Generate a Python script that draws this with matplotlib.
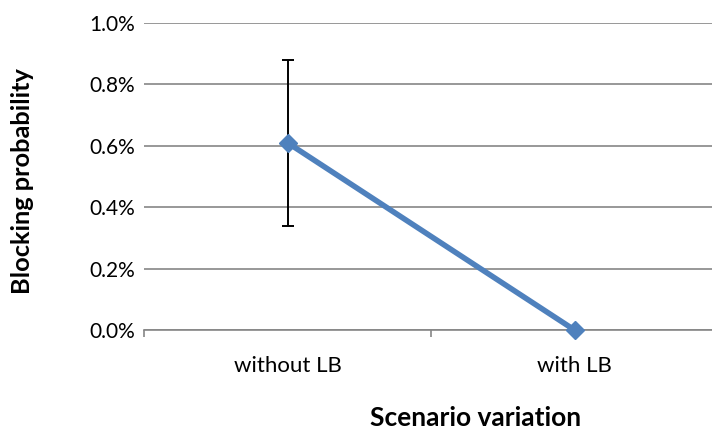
import matplotlib
matplotlib.use("Agg")
import matplotlib.pyplot as plt
from matplotlib.ticker import FuncFormatter, MultipleLocator

plt.rcParams['font.family'] = ['Lato', 'DejaVu Sans']

categories = ["without LB", "with LB"]
blocking = [0.0061, 0.0]
err_low = [0.0027, 0.0]
err_high = [0.0027, 0.0]

W, H = 712, 430
fig = plt.figure(figsize=(W / 100, H / 100), dpi=100)
x0, x1 = 144, 718
y0, y1 = 330, 23
ax = fig.add_axes([x0 / W, 1 - y0 / H, (x1 - x0) / W, (y0 - y1) / H])

xs = list(range(len(categories)))
grid_c = "#868686"

ax.set_ylim(0, 0.01)
ax.set_xlim(-0.5, 1.5)
ax.yaxis.set_major_locator(MultipleLocator(0.002))
ax.yaxis.set_major_formatter(FuncFormatter(lambda v, p: f"{v*100:.1f}%"))
ax.grid(axis="y", color=grid_c, linewidth=1.2)
ax.set_axisbelow(True)

for s in ["top", "right", "left"]:
    ax.spines[s].set_visible(False)
ax.spines["bottom"].set_color(grid_c)
ax.spines["bottom"].set_linewidth(1.2)

ax.tick_params(axis="y", length=0, pad=6.5, labelsize=15, colors="black")
ax.set_xticks([-0.5, 0.5, 1.5])
ax.set_xticklabels([])
ax.set_xticks(xs, minor=True)
ax.set_xticklabels(categories, minor=True)
ax.tick_params(axis="x", which="major", length=5, width=1.2, color=grid_c, direction="out")
ax.tick_params(axis="x", which="minor", length=0, pad=19, labelsize=16)

ax.errorbar(xs[0], blocking[0], yerr=[[err_low[0]], [err_high[0]]],
            fmt="none", ecolor="black", elinewidth=1.4, capsize=4.5, capthick=1.4, zorder=3)
ax.plot(xs, blocking, color="#4F81BD", linewidth=4, marker="D", markersize=9.5,
        zorder=4, clip_on=False)

fig.text(23 / W, 1 - 181 / H, "Blocking probability", rotation=90, ha="center", va="center",
         fontsize=18.3, fontweight="bold")
fig.text(476 / W, 1 - 426 / H, "Scenario variation", ha="center", va="baseline",
         fontsize=19, fontweight="bold")

fig.savefig("out.png", dpi=100)
